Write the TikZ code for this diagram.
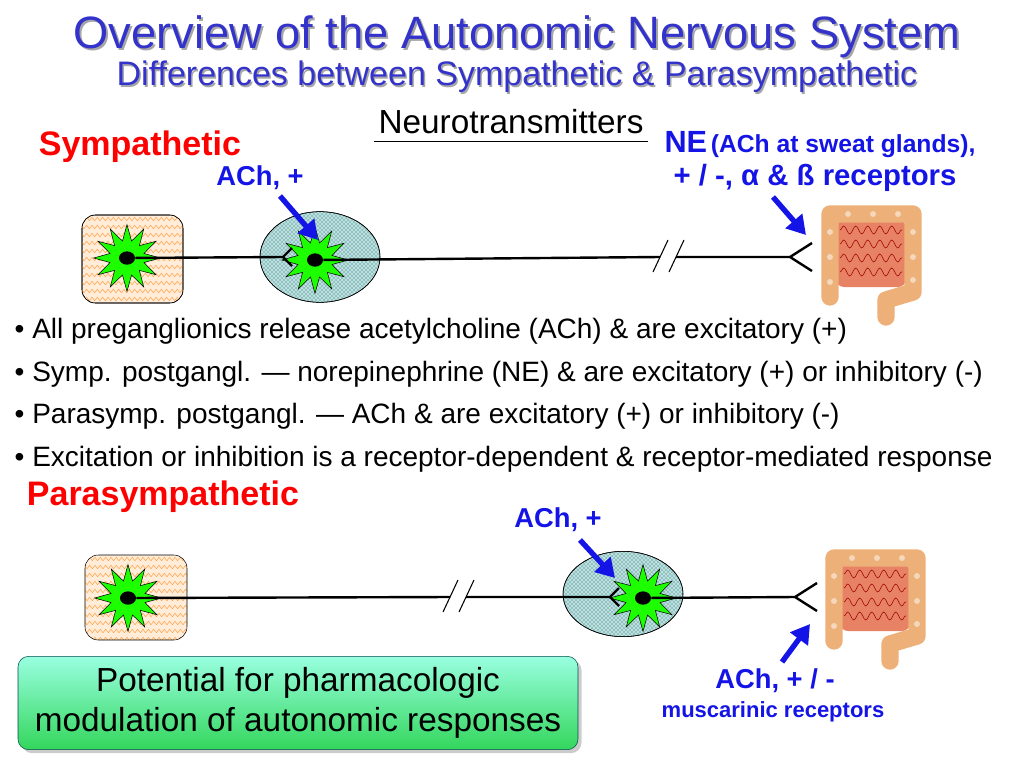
\documentclass[tikz,border=0pt]{standalone}
\usepackage{fontspec}
\setmainfont{Liberation Sans}
\usetikzlibrary{shapes.geometric,patterns,decorations.pathmorphing,shadows,arrows.meta}
\definecolor{ttl}{RGB}{51,51,204}
\definecolor{blu}{RGB}{20,20,230}
\definecolor{gut}{RGB}{236,176,120}
\definecolor{gutin}{RGB}{232,130,100}
\begin{document}
\begin{tikzpicture}[x=0.75pt,y=-0.75pt,
  neuron/.style={star,star points=12,star point ratio=1.9,minimum size=50pt,fill=green!85!lime,draw=black,thin,inner sep=0pt},
  nuc/.style={ellipse,fill=black,minimum width=12pt,minimum height=10pt,inner sep=0pt},
  axon/.style={line width=1.8pt},
  barr/.style={blu,line width=4pt,-{Triangle[length=14pt,width=16pt]}},
  soma/.style={rounded corners=10pt,draw=black,fill=orange!15},
  gang/.style={ellipse,draw=black,fill=teal!25,minimum width=90pt,minimum height=68pt},
  bul/.style={anchor=west,font=\fontsize{21}{24}\selectfont},
  lab/.style={blu,font=\bfseries\fontsize{20.5}{24}\selectfont}]
\useasboundingbox (0,0) rectangle (1024,768);
% titles
\node[black!35,font=\fontsize{34}{38}\selectfont] at (519,39) {Overview of the Autonomic Nervous System};
\node[ttl,font=\fontsize{34}{38}\selectfont] (t1) at (517,37) {Overview of the Autonomic Nervous System};
\node[black!35,font=\fontsize{25.5}{28}\selectfont] at (518.5,78.5) {Differences between Sympathetic \& Parasympathetic};
\node[ttl,font=\fontsize{25.5}{28}\selectfont] (t2) at (517,77) {Differences between Sympathetic \& Parasympathetic};
\node[font=\fontsize{25}{28}\selectfont] (t3) at (511,122) {Neurotransmitters};
\draw ([yshift=-2pt]t3.south west) -- ([yshift=-2pt]t3.south east);
\node[red,font=\bfseries\fontsize{25.5}{28}\selectfont] (sy) at (140,147) {Sympathetic};
\node[lab] (a1) at (260,178) {ACh, +};
\node[blu,font=\bfseries] (ne) at (820,145) {{\fontsize{23}{26}\selectfont NE} {\fontsize{18.5}{22}\selectfont(ACh at sweat glands),}};
\node[lab,font=\bfseries\fontsize{22}{26}\selectfont] (ne2) at (815,178) {+ / -, α \& ß receptors};
% --- sympathetic row
\begin{scope}
\path[soma] (82,215) rectangle (183,303);
\clip[rounded corners=10pt] (82,215) rectangle (183,303);
\foreach \y in {219,227,...,303} \draw[orange!70,decorate,decoration={zigzag,segment length=4pt,amplitude=1.3pt}] (80,\y)--(186,\y);
\end{scope}
\draw[rounded corners=10pt] (82,215) rectangle (183,303);
\node[gang] (g1) at (320,257) {};
\node[gang,fill=none,pattern=crosshatch dots,pattern color=teal!80!black] at (320,257) {};
\node[neuron] (n1) at (127,258) {};
\node[nuc] (c1) at (127,258) {};
\node[neuron] (n2) at (315,260) {};
\node[nuc] (c2) at (315,260) {};
\coordinate (f1) at (283,257);
\coordinate (f2) at (790,257);
\coordinate (b1) at (660,257);
\coordinate (b2) at (676,257);
\draw[axon] (c1) -- (f1) (f1) -- ++(9,-9) (f1) -- ++(9,9);
\draw[axon] (c2) -- (b1) (b2) -- (f2) (f2) -- ++(22,-14) (f2) -- ++(22,14);
\draw[thick] (653,272)--(668,240) (669,272)--(684,240);
\coordinate (ar1s) at (280,196); \coordinate (ar1e) at (318,240);
\draw[barr] (ar1s) -- (ar1e);
\coordinate (ar2s) at (773,197); \coordinate (ar2e) at (806,235);
\draw[barr] (ar2s) -- (ar2e);
% gut pic
\tikzset{gutpic/.pic={
  \fill[gutin,rounded corners=6pt] (-32,-32) rectangle (38,35);
  \foreach \yy in {-22,-8,6,20} \draw[red!60!black,thin,decorate,decoration={snake,segment length=9pt,amplitude=3pt}] (-28,\yy)--(34,\yy);
  \draw[gut,line width=13pt,line cap=round,line join=round] (-38,45) -- (-38,-38) -- (45,-38) -- (45,40) -- (18,48) -- (18,65);
  \foreach \p in {(-38,30),(-38,5),(-38,-20),(-20,-38),(5,-38),(30,-38),(45,-20),(45,5),(45,28)} \fill[white,opacity=0.5] \p circle (3);
}}
\pic at (868,252) {gutpic};
% bullets
\node[bul] (l1) at (10,331) {• All preganglionics release acetylcholine (ACh) \& are excitatory (+)};
\node[bul] (l2) at (10,374) {• Symp. postgangl. — norepinephrine (NE) \& are excitatory (+) or inhibitory (-)};
\node[bul] (l3) at (10,416) {• Parasymp. postgangl. — ACh \& are excitatory (+) or inhibitory (-)};
\node[bul] (l4) at (10,459) {• Excitation or inhibition is a receptor-dependent \& receptor-mediated response};
% parasympathetic
\node[red,font=\bfseries\fontsize{25.5}{28}\selectfont] (ps) at (163,497) {Parasympathetic};
\node[lab] (a2) at (558,520) {ACh, +};
\begin{scope}
\clip[rounded corners=10pt] (85,555) rectangle (187,640);
\path[fill=orange!15] (85,555) rectangle (187,640);
\foreach \y in {559,567,...,640} \draw[orange!70,decorate,decoration={zigzag,segment length=4pt,amplitude=1.3pt}] (83,\y)--(190,\y);
\end{scope}
\draw[rounded corners=10pt] (85,555) rectangle (187,640);
\node[gang,minimum height=64pt] (g2) at (623,594) {};
\node[gang,fill=none,pattern=crosshatch dots,pattern color=teal!80!black,minimum height=64pt] at (623,594) {};
\node[neuron] (n3) at (128,598) {};
\node[nuc] (c3) at (128,598) {};
\node[neuron] (n4) at (643,598) {};
\node[nuc] (c4) at (643,598) {};
\coordinate (f3) at (610,597);
\coordinate (f4) at (795,597);
\coordinate (b3) at (450,597);
\coordinate (b4) at (466,597);
\draw[axon] (c3) -- (b3) (b4) -- (f3) (f3) -- ++(9,-9) (f3) -- ++(9,9);
\draw[axon] (c4) -- (f4) (f4) -- ++(22,-14) (f4) -- ++(22,14);
\draw[thick] (443,612)--(458,580) (459,612)--(474,580);
\pic at (872,596) {gutpic};
\coordinate (ar3s) at (580,540); \coordinate (ar3e) at (615,578);
\draw[barr] (ar3s) -- (ar3e);
\coordinate (ar4s) at (782,662); \coordinate (ar4e) at (810,624);
\draw[barr] (ar4s) -- (ar4e);
\node[lab] (a3) at (775,681) {ACh, + / -};
\node[blu,font=\bfseries\fontsize{16.5}{20}\selectfont] (mr) at (773,712) {muscarinic receptors};
% green box
\node[rounded corners=8pt,draw=teal!60!black,top color=green!30!cyan!40,bottom color=green!60!teal!80,
  minimum width=420pt,minimum height=70pt,drop shadow={opacity=0.4},
  align=center,font=\fontsize{25}{30}\selectfont] (gb) at (298,703)
  {Potential for pharmacologic\\modulation of autonomic responses};
\end{tikzpicture}
\end{document}
